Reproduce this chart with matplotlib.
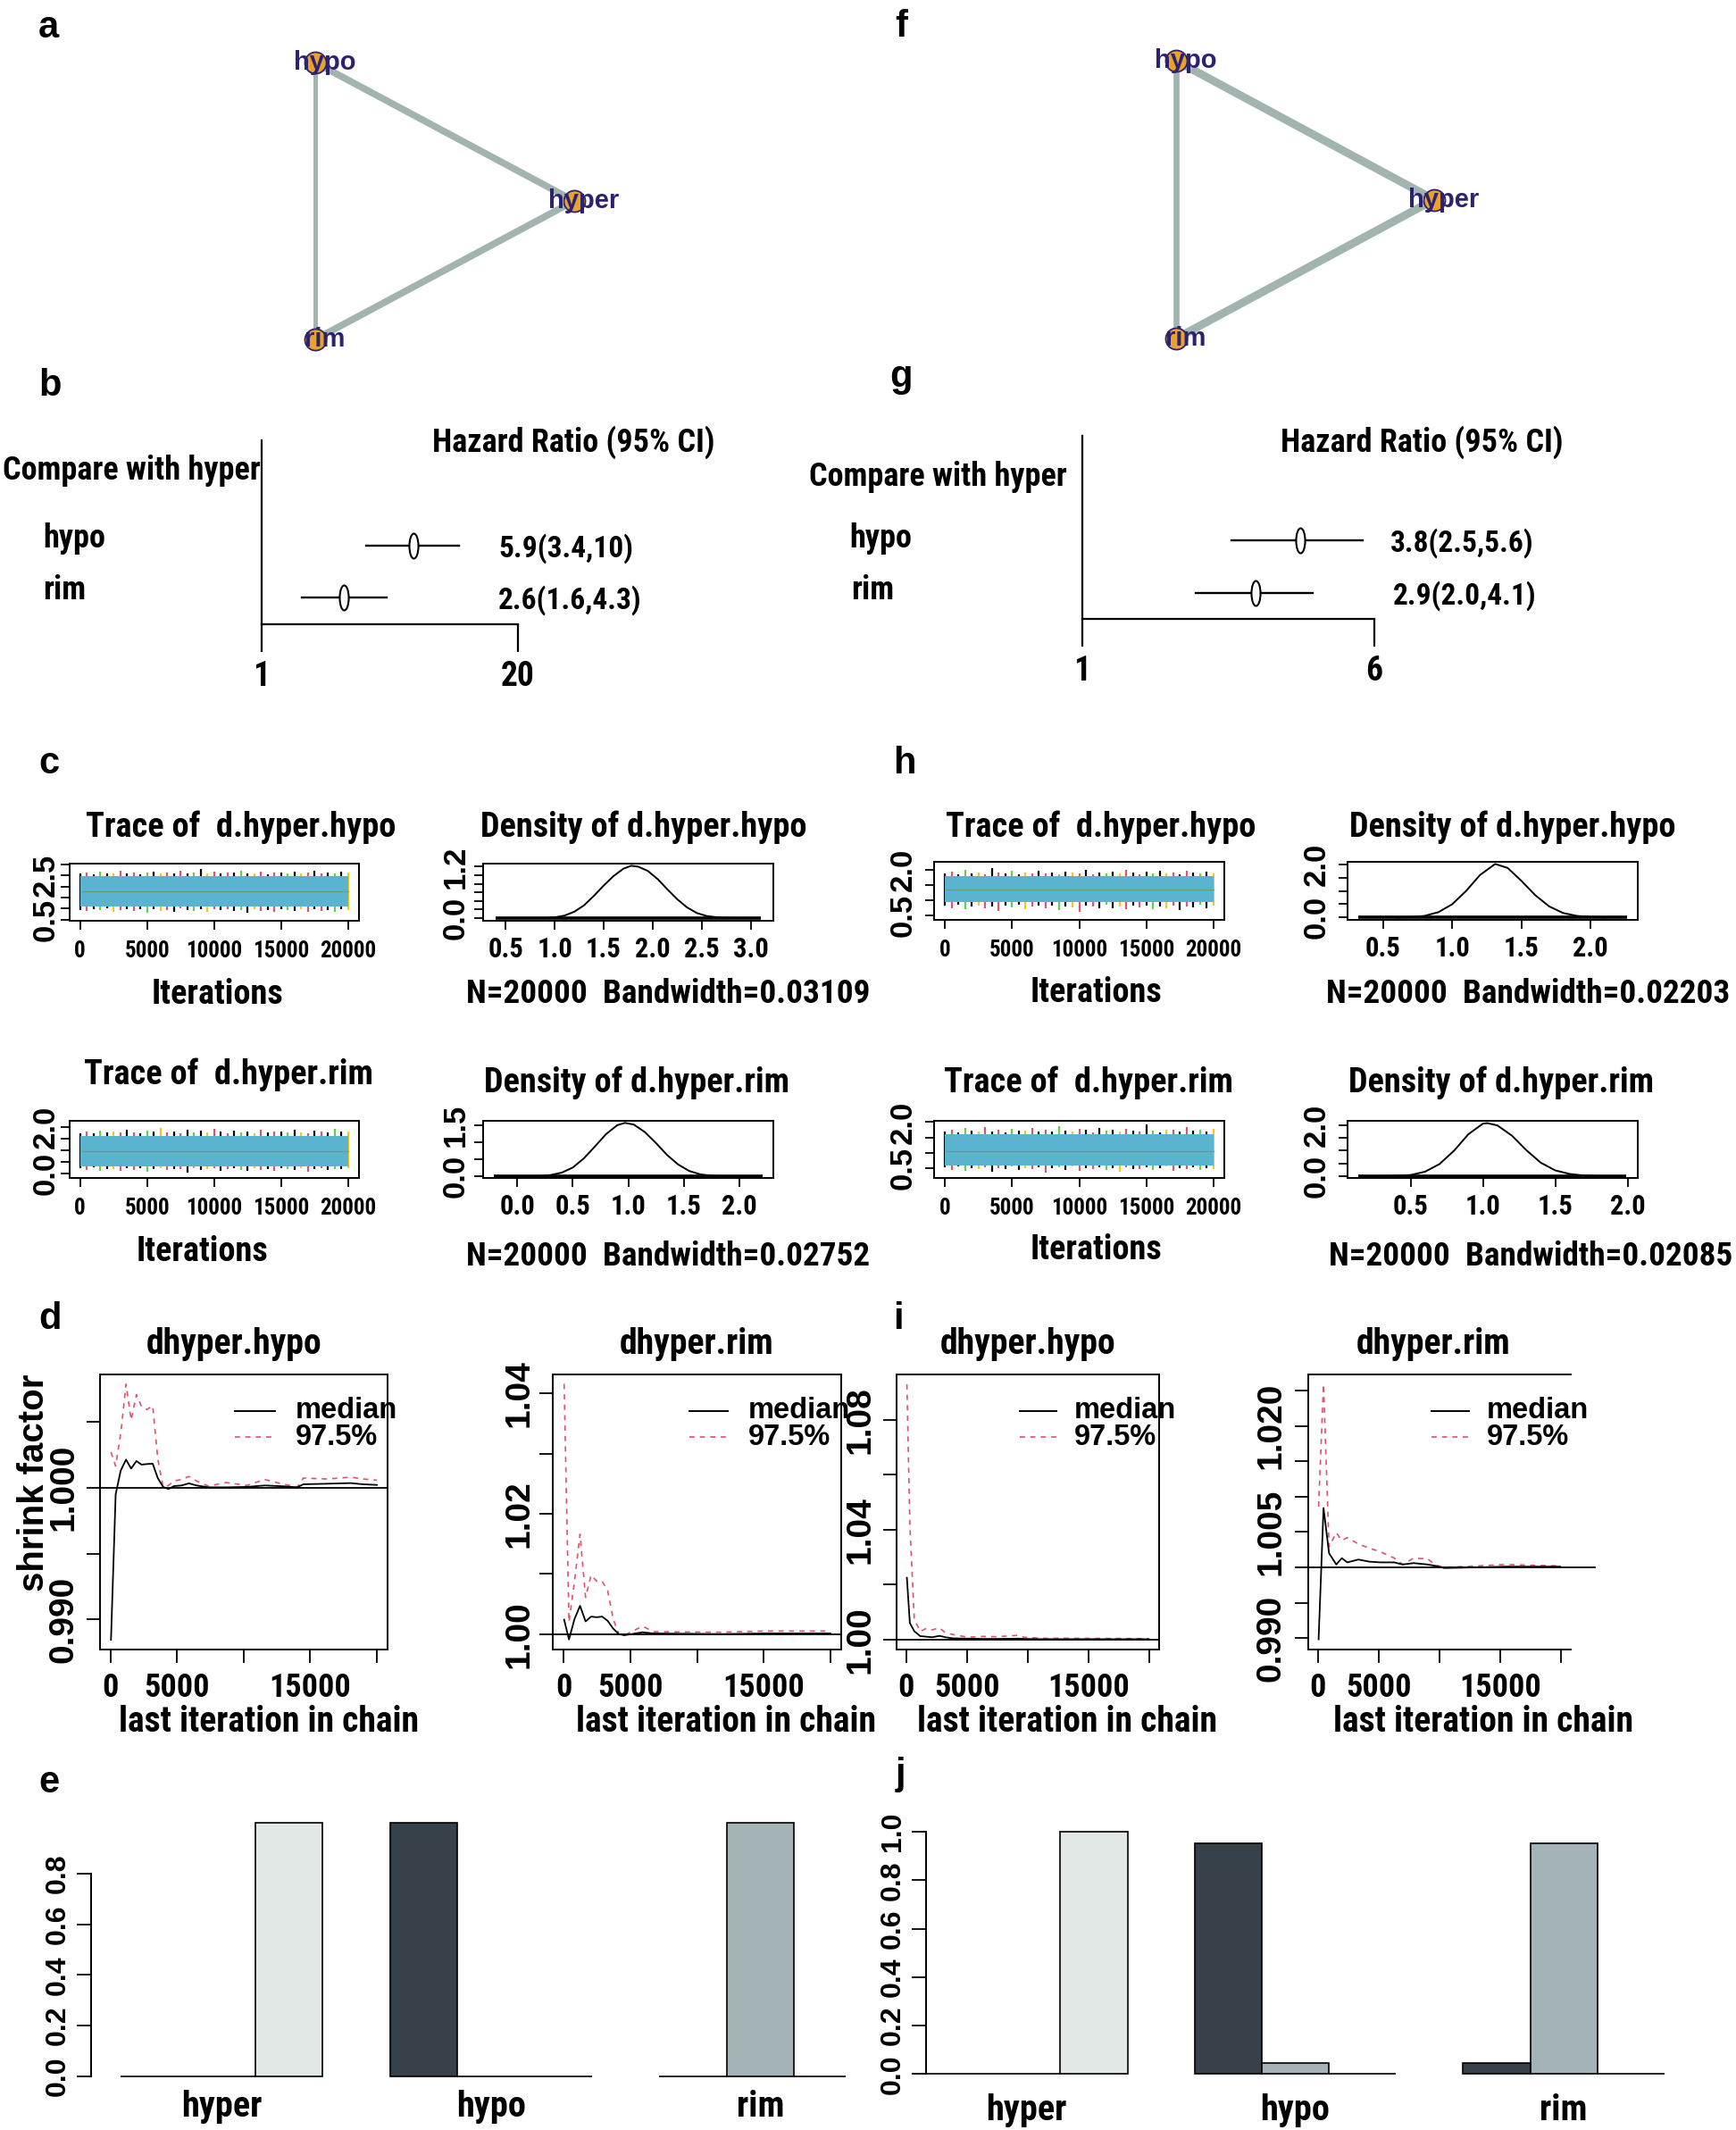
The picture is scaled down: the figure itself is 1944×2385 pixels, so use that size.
import numpy as np
import matplotlib
matplotlib.use("Agg")
import matplotlib.pyplot as plt
from matplotlib import font_manager as fm
from matplotlib.path import Path
from matplotlib.lines import Line2D

# ===================== data =====================
treatments = ["hypo", "hyper", "rim"]
net_edges = [("hypo", "hyper"), ("hyper", "rim"), ("hypo", "rim")]
net_a_widths = [5.5, 5.5, 3.6]
net_f_widths = [6.5, 6.5, 4.8]

forest_rows = ["hypo", "rim"]
b_hr = [5.9, 2.6]
b_lo = [3.4, 1.6]
b_hi = [10.0, 4.3]
b_txt = ["5.9(3.4,10)", "2.6(1.6,4.3)"]
b_xticks = [1, 20]
g_hr = [3.8, 2.9]
g_lo = [2.5, 2.0]
g_hi = [5.6, 4.1]
g_txt = ["3.8(2.5,5.6)", "2.9(2.0,4.1)"]
g_xticks = [1, 6]

iter_ticks = [0, 5000, 10000, 15000, 20000]
trace_iter = np.linspace(0, 20000, 41)

c_hypo_center = 1.78
c_hypo_core = (1.10, 2.45)
c_hypo_hi = [2.58, 2.62, 2.55, 2.66, 2.60, 2.57, 2.70, 2.59, 2.63, 2.56, 2.61, 2.68, 2.58, 2.64,
             2.57, 2.72, 2.60, 2.62, 2.80, 2.59, 2.65, 2.57, 2.61, 2.63, 2.69, 2.58, 2.60, 2.66,
             2.56, 2.62, 2.64, 2.59, 2.67, 2.58, 2.61, 2.71, 2.57, 2.63, 2.60, 2.68, 2.62]
c_hypo_lo = [0.95, 0.88, 0.98, 0.92, 1.00, 0.86, 0.94, 0.99, 0.90, 0.96, 0.83, 0.97, 0.91, 0.95,
             0.87, 1.00, 0.93, 0.89, 0.97, 0.84, 0.96, 0.92, 0.99, 0.88, 0.94, 0.80, 0.97, 0.90,
             0.95, 0.86, 0.98, 0.92, 0.89, 0.96, 0.85, 0.99, 0.91, 0.94, 0.87, 0.97, 0.93]

c_rim_center = 0.96
c_rim_core = (0.30, 1.62)
c_rim_hi = [1.74, 1.80, 1.72, 1.86, 1.77, 1.82, 1.75, 1.90, 1.78, 1.73, 1.84, 1.79, 1.95, 1.76,
            1.81, 1.74, 1.88, 1.77, 1.83, 1.75, 1.92, 1.79, 1.73, 1.85, 1.78, 1.80, 1.74, 1.89,
            1.76, 1.82, 1.79, 1.75, 1.87, 1.78, 1.73, 1.84, 1.80, 1.76, 1.91, 1.79, 1.81]
c_rim_lo = [0.22, 0.15, 0.25, 0.12, 0.20, 0.18, 0.10, 0.24, 0.16, 0.21, 0.08, 0.19, 0.23, 0.14,
            0.20, 0.17, 0.05, 0.22, 0.13, 0.19, 0.24, 0.11, 0.18, 0.21, 0.15, 0.09, 0.23, 0.16,
            0.20, 0.12, 0.22, 0.18, 0.14, 0.21, 0.07, 0.19, 0.23, 0.15, 0.20, 0.17, 0.22]

h_hypo_center = 1.33
h_hypo_core = (0.92, 1.78)
h_hypo_hi = [1.86, 1.92, 1.84, 1.98, 1.88, 1.90, 1.85, 2.05, 1.89, 1.87, 1.95, 1.83, 1.91, 1.88,
             1.96, 1.86, 1.90, 1.84, 1.93, 1.89, 1.87, 1.99, 1.85, 1.91, 1.88, 1.94, 1.86, 2.00,
             1.89, 1.85, 1.92, 1.88, 1.96, 1.87, 1.90, 1.84, 1.97, 1.89, 1.86, 1.93, 1.88]
h_hypo_lo = [0.80, 0.74, 0.83, 0.70, 0.78, 0.82, 0.72, 0.79, 0.65, 0.81, 0.76, 0.84, 0.71, 0.78,
             0.80, 0.73, 0.82, 0.68, 0.79, 0.75, 0.60, 0.81, 0.77, 0.72, 0.83, 0.74, 0.79, 0.69,
             0.80, 0.76, 0.82, 0.71, 0.78, 0.74, 0.81, 0.66, 0.79, 0.76, 0.83, 0.72, 0.80]

h_rim_center = 1.04
h_rim_core = (0.60, 1.60)
h_rim_hi = [1.68, 1.75, 1.66, 1.80, 1.72, 1.70, 1.85, 1.69, 1.74, 1.67, 1.78, 1.71, 1.73, 1.82,
            1.68, 1.76, 1.70, 1.88, 1.72, 1.69, 1.77, 1.74, 1.66, 1.81, 1.71, 1.75, 1.68, 1.79,
            1.73, 1.70, 1.92, 1.72, 1.67, 1.76, 1.74, 1.69, 1.83, 1.71, 1.75, 1.68, 1.78]
h_rim_lo = [0.52, 0.45, 0.55, 0.40, 0.50, 0.47, 0.54, 0.38, 0.51, 0.48, 0.56, 0.43, 0.50, 0.46,
            0.53, 0.36, 0.49, 0.52, 0.44, 0.55, 0.41, 0.50, 0.47, 0.53, 0.45, 0.51, 0.39, 0.54,
            0.48, 0.46, 0.52, 0.43, 0.50, 0.55, 0.42, 0.49, 0.47, 0.53, 0.44, 0.51, 0.48]

# density curves (value, density)
c_hypo_dx = [0.9, 1.0, 1.1, 1.2, 1.3, 1.4, 1.5, 1.6, 1.7, 1.78, 1.85, 1.95, 2.05, 2.15, 2.25,
             2.35, 2.45, 2.55, 2.7, 2.9]
c_hypo_dy = [0.0, 0.02, 0.06, 0.15, 0.30, 0.52, 0.76, 0.98, 1.15, 1.22, 1.20, 1.10, 0.91, 0.67,
             0.44, 0.25, 0.12, 0.05, 0.01, 0.0]
c_hypo_rug = (0.40, 3.10)
c_rim_dx = [0.1, 0.2, 0.3, 0.4, 0.5, 0.6, 0.7, 0.8, 0.9, 0.97, 1.05, 1.15, 1.25, 1.35, 1.45,
            1.55, 1.65, 1.75, 1.9]
c_rim_dy = [0.0, 0.01, 0.04, 0.11, 0.26, 0.53, 0.88, 1.24, 1.50, 1.57, 1.52, 1.30, 0.98, 0.63,
            0.35, 0.16, 0.06, 0.02, 0.0]
c_rim_rug = (-0.21, 2.21)
h_hypo_dx = [0.6, 0.7, 0.8, 0.9, 1.0, 1.1, 1.2, 1.31, 1.4, 1.5, 1.6, 1.7, 1.8, 1.9, 2.0, 2.1]
h_hypo_dy = [0.0, 0.01, 0.06, 0.20, 0.50, 1.00, 1.60, 2.02, 1.87, 1.38, 0.84, 0.42, 0.17, 0.06,
             0.02, 0.0]
h_hypo_rug = (0.32, 2.26)
h_rim_dx = [0.3, 0.4, 0.5, 0.6, 0.7, 0.8, 0.9, 1.0, 1.03, 1.1, 1.2, 1.3, 1.4, 1.5, 1.6, 1.7, 1.8]
h_rim_dy = [0.0, 0.01, 0.04, 0.17, 0.47, 0.99, 1.64, 2.05, 2.07, 1.98, 1.58, 1.01, 0.52, 0.22,
            0.08, 0.02, 0.0]
h_rim_rug = (0.14, 1.99)

# Gelman shrink factors
d1_it = [50, 400, 780, 1180, 1560, 1960, 2340, 2740, 3180, 3560, 3960, 4360, 4770, 5350, 5900,
         6460, 7350, 8690, 10240, 11580, 12920, 14030, 14480, 16260, 18040, 18930, 20000]
d1_med = [0.98847, 0.99948, 1.00129, 1.00212, 1.00144, 1.00201, 1.00174, 1.00178, 1.00181,
          1.00072, 1.00005, 0.99989, 1.00011, 1.00016, 1.00032, 1.00016, 1.00002, 1.00002,
          1.00005, 1.00016, 1.0001, 1.00002, 1.00025, 1.00029, 1.00034, 1.00025, 1.0002]
d1_q975 = [1.00269, 1.00163, 1.00411, 1.00783, 1.00512, 1.00704, 1.00614, 1.00591, 1.00619,
           1.00219, 1.00005, 1.00016, 1.0005, 1.00061, 1.00084, 1.0005, 1.00011, 1.00038,
           1.00016, 1.00061, 1.00027, 1.00005, 1.00072, 1.00065, 1.00079, 1.00065, 1.00056]

d2_it = [50, 414, 828, 1242, 1656, 2070, 2484, 2899, 3313, 3727, 4141, 4555, 5921, 6749, 11718,
         15031, 20000]
d2_med = [1.0024, 0.9991, 1.0025, 1.0047, 1.0021, 1.0029, 1.0028, 1.0029, 1.0022, 1.0009, 1.0000,
          0.9998, 1.0003, 1.0001, 1.0000, 1.0001, 1.0001]
d2_q975 = [1.0416, 1.0020, 1.0088, 1.0166, 1.0061, 1.0098, 1.0088, 1.0088, 1.0072, 1.0025, 1.0000,
           0.9998, 1.0013, 1.0004, 1.0003, 1.0005, 1.0005]

i1_it = [50, 293, 660, 1149, 1638, 2127, 2738, 3227, 3839, 5061, 6284, 7506, 9218, 9707, 11174,
         13619, 20000]
i1_med = [1.0225, 1.0060, 1.0030, 1.0012, 1.0010, 1.0008, 1.0013, 1.0008, 1.0004, 1.0003, 1.0002,
          1.0002, 1.0003, 1.0002, 1.0001, 1.0001, 1.0001]
i1_q975 = [1.0930, 1.0420, 1.0073, 1.0029, 1.0040, 1.0035, 1.0042, 1.0024, 1.0018, 1.0008, 1.0011,
           1.0010, 1.0015, 1.0008, 1.0004, 1.0004, 1.0003]

i2_it = [50, 455, 909, 1500, 1955, 2409, 3318, 4227, 5136, 6273, 6955, 7864, 9000, 9682, 10364,
         13091, 15364, 19909]
i2_med = [0.98982, 1.0084, 1.0020, 1.0004, 1.0013, 1.0007, 1.0011, 1.0008, 1.0007, 1.0007,
          1.0004, 1.0006, 1.0004, 1.0002, 0.9999, 1.0000, 1.0001, 1.0001]
i2_q975 = [1.0086, 1.0259, 1.0029, 1.0049, 1.0038, 1.0042, 1.0033, 1.0027, 1.0022, 1.0013,
           1.0004, 1.0013, 1.0012, 1.0003, 1.0000, 1.0002, 1.0004, 1.0002]

# rank probabilities (groups x rank)
bar_groups = ["hyper", "hypo", "rim"]
e_probs = [[0.0, 0.0, 1.0], [1.0, 0.0, 0.0], [0.0, 1.0, 0.0]]
j_probs = [[0.0, 0.0, 1.0], [0.953, 0.047, 0.0], [0.047, 0.953, 0.0]]
bar_colors = ["#37414A", "#A3B3B6", "#E1E8E6"]

# ===================== style =====================
TEAL = "#5AB3CF"
RED = "#DF536B"
GREEN = "#61D04F"
YELLOW = "#F5C710"
EDGE = "#A2B4B0"
ORANGE = "#EBA229"
NAVY = "#2C2272"

W, H = 1944, 2385
fig = plt.figure(figsize=(W / 100, H / 100), dpi=100)
fig.patch.set_facecolor("white")

avail = {f.name for f in fm.fontManager.ttflist}


def pick(*cands):
    for c in cands:
        if c in avail:
            return c
    return "DejaVu Sans"


NARROW = pick("Liberation Sans Narrow", "DejaVu Sans Condensed", "Roboto Condensed", "Liberation Sans")
WIDE = pick("Liberation Sans", "Arimo", "DejaVu Sans")
FN = [NARROW, "DejaVu Sans"]
FW = [WIDE, "DejaVu Sans"]
PT = 72 / 100.0  # points per pixel


def px_ax(l, t, r, b):
    return fig.add_axes([l / W, 1 - b / H, (r - l) / W, (b - t) / H])


def ftxt(x, y, s, size, fam=None, ha="center", va="center", rot=0, color="black"):
    fig.text(x / W, 1 - y / H, s, fontsize=size, family=fam or FN, ha=ha, va=va,
             rotation=rot, color=color, fontweight="bold")


def fline(x0, x1, y0, y1, **kw):
    fig.add_artist(Line2D([x0 / W, x1 / W], [1 - y0 / H, 1 - y1 / H],
                          transform=fig.transFigure, **kw))


def r_axes(box, xlim, ylim):
    ax = px_ax(*box)
    ax.set_xlim(*xlim)
    ax.set_ylim(*ylim)
    for s in ax.spines.values():
        s.set_linewidth(1.4)
    ax.set_facecolor("none")
    return ax


def style_ticks(ax, xticks, xlabels, xsize, xpad, yticks, ylabels, ysize, ypad, tlen=10):
    ax.set_xticks(xticks)
    ax.set_xticklabels(xlabels, fontsize=xsize, family=FN, fontweight="bold")
    ax.set_yticks(yticks)
    ax.set_yticklabels(ylabels, fontsize=ysize, family=FW, fontweight="bold",
                       rotation=90, va="center")
    ax.tick_params(axis="x", direction="out", length=tlen * PT, width=1.3, pad=xpad * PT)
    ax.tick_params(axis="y", direction="out", length=tlen * PT, width=1.3, pad=ypad * PT)


# ===================== panel letters =====================
for L, x, y in [("a", 43, 42), ("b", 43, 443), ("c", 43, 866), ("d", 43, 1488), ("e", 43, 2007),
                ("f", 1002, 41), ("g", 996, 433), ("h", 1000, 866), ("i", 1000, 1488),
                ("j", 1003, 1998)]:
    ftxt(x, y, L, 30, fam=FW, ha="left", va="baseline")


# ===================== network (a, f) =====================
def draw_net(cx, cy, sx, sy, widths):
    R = 1.35
    ax = px_ax(cx - R * sx, cy - R * sy, cx + R * sx, cy + R * sy)
    ax.set_xlim(-R, R)
    ax.set_ylim(-R, R)
    ax.axis("off")
    angles = np.deg2rad([120, 0, 240])
    pos = {t: (np.cos(a), np.sin(a)) for t, a in zip(treatments, angles)}
    for (u, v), w in zip(net_edges, widths):
        ax.plot([pos[u][0], pos[v][0]], [pos[u][1], pos[v][1]], color=EDGE, lw=w,
                solid_capstyle="butt", zorder=1)
    for t in treatments:
        ax.scatter([pos[t][0]], [pos[t][1]], s=300, color=ORANGE, edgecolors=NAVY,
                   linewidths=1.3, zorder=2)
        ax.text(pos[t][0] + 11 / sx, pos[t][1], t, fontsize=21, family=FW, fontweight="bold",
                color=NAVY, ha="center", va="center", zorder=3)


draw_net(449.7, 225, 193.3, 179, net_a_widths)
draw_net(1413.3, 223.5, 192.7, 179.6, net_f_widths)

# ===================== forest (b, g) =====================
circ = Path.unit_circle()
ELL = Path(circ.vertices * np.array([0.36, 1.0]), circ.codes)


def draw_forest(box, xmax, ylim, hr, lo, hi, ticks):
    ax = px_ax(*box)
    ax.set_xscale("log")
    ax.set_xlim(1, xmax)
    ax.set_ylim(*ylim)
    ax.set_facecolor("none")
    for s in ["top", "right"]:
        ax.spines[s].set_visible(False)
    for s in ["left", "bottom"]:
        ax.spines[s].set_linewidth(1.6)
    ax.set_xticks(ticks)
    ax.set_xticklabels([str(t) for t in ticks], fontsize=27, family=FN, fontweight="bold")
    ax.minorticks_off()
    ax.set_yticks([])
    ax.tick_params(axis="x", direction="out", length=31 * PT, width=1.6, pad=9 * PT)
    rows = np.arange(len(hr), 0, -1)
    for y, h, l, u in zip(rows, hr, lo, hi):
        ax.plot([l, u], [y, y], color="black", lw=1.7, zorder=2)
        ax.plot([h], [y], marker=ELL, ms=28 * PT, mfc="white", mec="black", mew=1.5,
                zorder=3)
    return ax


draw_forest((293, 493, 580, 699), 20, (0.483, 4.03), b_hr, b_lo, b_hi, b_xticks)
ftxt(642, 495, "Hazard Ratio (95% CI)", 26)
ftxt(3, 527, "Compare with hyper", 26, ha="left")
for name, y in zip(forest_rows, [603, 661]):
    ftxt(48, y, name, 26, ha="left")
for s, y in zip(b_txt, [614, 672]):
    ftxt(558, y, s, 24, ha="left")

draw_forest((1212, 488, 1539, 693), 6, (0.508, 3.98), g_hr, g_lo, g_hi, g_xticks)
ftxt(1592, 495, "Hazard Ratio (95% CI)", 26)
ftxt(906, 534, "Compare with hyper", 26, ha="left")
for name, x, y in zip(forest_rows, [951, 953], [603, 661]):
    ftxt(x, y, name, 26, ha="left")
for s, x, y in zip(g_txt, [1557, 1560], [608, 667]):
    ftxt(x, y, s, 24, ha="left")


# ===================== trace & density (c, h) =====================
def draw_trace(box, ylim, yticks, ylabels, center, core, hi, lo, ypad):
    ax = r_axes(box, (-800, 20800), ylim)
    cols = ["black", RED, "black", GREEN, "black", YELLOW, RED]
    ax.vlines(trace_iter, lo, hi, colors=[cols[k % len(cols)] for k in range(len(hi))],
              lw=1.6, zorder=1)
    ax.fill_between([0, 20000], [core[0]] * 2, [core[1]] * 2, color=TEAL, lw=0, zorder=2)
    ax.plot([0, 20000], [center, center], color="#6F9C86", lw=1.0, zorder=3)
    style_ticks(ax, iter_ticks, [str(t) for t in iter_ticks], 18, 12, yticks, ylabels, 25, ypad)
    return ax


def draw_density(box, xlim, ylim, dx, dy, rug, xticks, yticks, ylabels, ypad):
    ax = r_axes(box, xlim, ylim)
    ax.plot(dx, dy, color="black", lw=1.4)
    ax.plot(rug, [0.0, 0.0], color="black", lw=2.6, solid_capstyle="butt")
    style_ticks(ax, xticks, ["%.1f" % t for t in xticks], 22, 7, yticks, ylabels, 25, ypad)
    return ax


draw_trace((77.5, 967, 402, 1030.5), (0.47, 3.03), [0.5, 1.0, 1.5, 2.0, 2.5, 3.0],
           ["0.5", "", "", "", "2.5", ""], c_hypo_center, c_hypo_core, c_hypo_hi, c_hypo_lo, 0)
draw_trace((77.5, 1255, 402, 1319.5), (-0.22, 2.27), [0.0, 0.5, 1.0, 1.5, 2.0],
           ["0.0", "", "", "", "2.0"], c_rim_center, c_rim_core, c_rim_hi, c_rim_lo, 0)
draw_trace((1046, 965, 1371, 1030), (0.345, 2.25), [0.5, 1.0, 1.5, 2.0],
           ["0.5", "", "", "2.0"], h_hypo_center, h_hypo_core, h_hypo_hi, h_hypo_lo, 8)
draw_trace((1046, 1255, 1371, 1319.4), (0.17, 2.04), [0.5, 1.0, 1.5, 2.0],
           ["0.5", "", "", "2.0"], h_rim_center, h_rim_core, h_rim_hi, h_rim_lo, 8)

draw_density((541, 967, 866, 1030.5), (0.27, 3.23), (-0.05, 1.27), c_hypo_dx, c_hypo_dy,
             c_hypo_rug, [0.5, 1.0, 1.5, 2.0, 2.5, 3.0], [0.0, 0.2, 0.4, 0.6, 0.8, 1.0, 1.2],
             ["0.0", "", "", "", "", "", "1.2"], 4)
draw_density((541, 1255, 866, 1319.5), (-0.31, 2.31), (-0.06, 1.63), c_rim_dx, c_rim_dy,
             c_rim_rug, [0.0, 0.5, 1.0, 1.5, 2.0], [0.0, 0.5, 1.0, 1.5],
             ["0.0", "", "", "1.5"], 4)
draw_density((1509, 965, 1834, 1030), (0.244, 2.34), (-0.09, 2.10), h_hypo_dx, h_hypo_dy,
             h_hypo_rug, [0.5, 1.0, 1.5, 2.0], [0.0, 0.5, 1.0, 1.5, 2.0],
             ["0.0", "", "", "", "2.0"], 8)
draw_density((1509, 1255, 1834, 1319.4), (0.064, 2.07), (-0.09, 2.16), h_rim_dx, h_rim_dy,
             h_rim_rug, [0.5, 1.0, 1.5, 2.0], [0.0, 0.5, 1.0, 1.5, 2.0],
             ["0.0", "", "", "", "2.0"], 8)

for s, x, y in [("Trace of  d.hyper.hypo", 270, 926), ("Density of d.hyper.hypo", 721, 926),
                ("Trace of  d.hyper.rim", 256, 1203), ("Density of d.hyper.rim", 713, 1212),
                ("Trace of  d.hyper.hypo", 1233, 926), ("Density of d.hyper.hypo", 1694, 926),
                ("Trace of  d.hyper.rim", 1219, 1212), ("Density of d.hyper.rim", 1681, 1212)]:
    ftxt(x, y, s, 27.5)
for x, y in [(243, 1113), (226, 1401), (1227, 1112), (1227, 1399)]:
    ftxt(x, y, "Iterations", 27.5)
for s, x, y in [("N=20000  Bandwidth=0.03109", 748, 1113), ("N=20000  Bandwidth=0.02752", 748, 1407),
                ("N=20000  Bandwidth=0.02203", 1711, 1113), ("N=20000  Bandwidth=0.02085", 1714, 1407)]:
    ftxt(x, y, s, 26.8)


# ===================== Gelman (d, i) =====================
def draw_gelman(box, ylim, yticks, ylabels, it, med, it2, q975, ypad, leg_x, right=True):
    ax = r_axes(box, (-800, 20800), ylim)
    ax.plot(it, med, color="black", lw=1.3, zorder=3)
    ax.plot(it2, q975, color=RED, lw=1.2, ls=(0, (3.5, 3.5)), zorder=2)
    if right:
        ax.axhline(1.0, color="black", lw=1.3)
    else:
        ax.spines["right"].set_visible(False)
        ax.plot([-1750, 22750], [1.0, 1.0], color="black", lw=1.3, clip_on=False)
    style_ticks(ax, iter_ticks, ["0", "5000", "", "15000", ""], 26, 10, yticks, ylabels, 28,
                ypad, tlen=15)
    # legend
    fline(leg_x[0], leg_x[1], 1580, 1580, color="black", lw=1.4)
    fline(leg_x[0], leg_x[1], 1609, 1609, color=RED, lw=1.2, ls=(0, (3.5, 3.5)))
    ftxt(leg_x[2], 1580, "median", 23.5, fam=FW, ha="left")
    ftxt(leg_x[2], 1609, "97.5%", 23.5, fam=FW, ha="left")
    return ax


draw_gelman((111.6, 1539, 434, 1847), (0.98773, 1.00857), [0.990, 0.995, 1.000, 1.005],
            ["0.990", "", "1.000", ""], d1_it, d1_med, d1_it, d1_q975, 7, (263, 308, 331))
draw_gelman((619, 1539, 942, 1847), (0.99743, 1.04316), [1.00, 1.01, 1.02, 1.03, 1.04],
            ["1.00", "", "1.02", "", "1.04"], d2_it, d2_med, d2_it, d2_q975, 5, (772, 815, 838))
draw_gelman((1004, 1539, 1297.5, 1847), (0.99632, 1.0966), [1.00, 1.02, 1.04, 1.06, 1.08],
            ["1.00", "", "1.04", "", "1.08"], i1_it, i1_med, i1_it, i1_q975, 8, (1142, 1183, 1203))
draw_gelman((1465, 1539, 1759.4, 1847), (0.98838, 1.02727),
            [0.990, 0.995, 1.000, 1.005, 1.010, 1.015, 1.020, 1.025],
            ["0.990", "", "", "1.005", "", "", "1.020", ""], i2_it, i2_med, i2_it, i2_q975, 9,
            (1603, 1645, 1665), right=False)

for s, x in [("dhyper.hypo", 262), ("dhyper.rim", 780), ("dhyper.hypo", 1151), ("dhyper.rim", 1605)]:
    ftxt(x, 1505, s, 28.5)
for x in [301, 813, 1195, 1661]:
    ftxt(x, 1928, "last iteration in chain", 28.5)
ftxt(38, 1660, "shrink factor", 29, fam=FW, rot=90)


# ===================== rank bars (e, j) =====================
def draw_bars(box, xlim, probs, ytop, ypad, xpad):
    ax = px_ax(*box)
    ax.set_xlim(*xlim)
    ax.set_ylim(-0.04, 1.04)
    ax.set_facecolor("none")
    for s in ["top", "right", "bottom"]:
        ax.spines[s].set_visible(False)
    ax.spines["left"].set_linewidth(1.4)
    ax.spines["left"].set_bounds(0, ytop)
    centers = []
    for g, row in enumerate(probs):
        lefts = [g * 4 + 1 + k for k in range(len(row))]
        ax.bar(lefts, row, width=1.0, align="edge", color=bar_colors, edgecolor="black", lw=1.2)
        centers.append(lefts[0] + len(row) / 2)
    yt = [v / 10 for v in range(0, int(round(ytop * 10)) + 1, 2)]
    ax.set_yticks(yt)
    ax.set_yticklabels(["%.1f" % v for v in yt], fontsize=23, family=FW, fontweight="bold",
                       rotation=90, va="center")
    ax.tick_params(axis="y", direction="out", length=16 * PT, width=1.3, pad=ypad * PT)
    ax.set_xticks(centers)
    ax.set_xticklabels(bar_groups, fontsize=29, family=FN, fontweight="bold")
    ax.tick_params(axis="x", length=0, pad=xpad * PT)
    return ax


draw_bars((101.8, 2029.6, 947, 2336.4), (0.56, 11.77), e_probs, 0.8, 6, 4)
draw_bars((1037, 2040.2, 1897, 2333.2), (1.0, 12.44), j_probs, 1.0, 6, 11)

fig.savefig("out.png", dpi=100, facecolor="white")
